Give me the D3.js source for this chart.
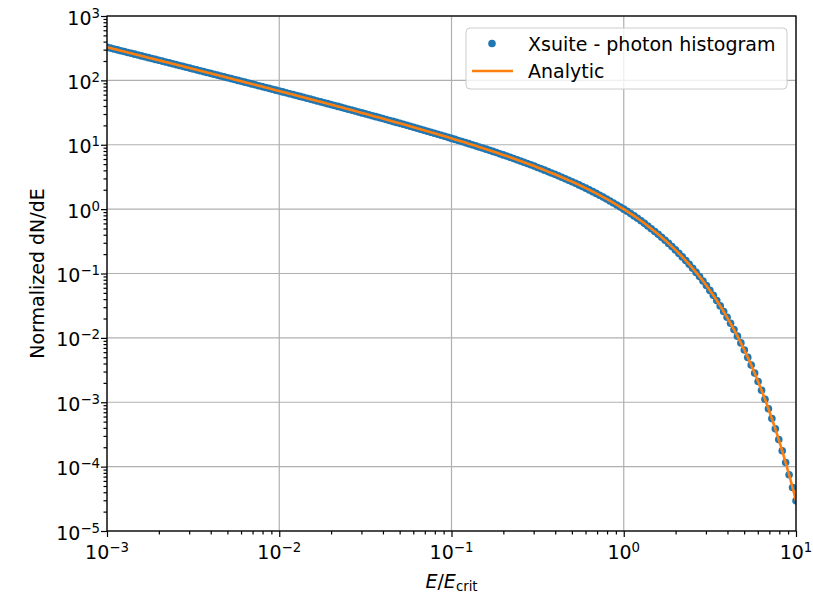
<!DOCTYPE html>
<html>
<head>
<meta charset="utf-8">
<script src="https://cdn.jsdelivr.net/npm/d3@7"></script>
<style>
body { margin: 0; background: #fff; }
text { font-family: "DejaVu Sans", sans-serif; fill: #000; }
</style>
</head>
<body>
<svg id="chart" width="813" height="593"></svg>
<script>
// photon energy over critical energy (log bins)
var energyRatio = [
  1.000e-3, 1.047e-3, 1.096e-3, 1.148e-3, 1.202e-3, 1.259e-3, 1.318e-3, 1.380e-3, 1.445e-3, 1.514e-3,
  1.585e-3, 1.660e-3, 1.738e-3, 1.820e-3, 1.905e-3, 1.995e-3, 2.089e-3, 2.188e-3, 2.291e-3, 2.399e-3,
  2.512e-3, 2.630e-3, 2.754e-3, 2.884e-3, 3.020e-3, 3.162e-3, 3.311e-3, 3.467e-3, 3.631e-3, 3.802e-3,
  3.981e-3, 4.169e-3, 4.365e-3, 4.571e-3, 4.786e-3, 5.012e-3, 5.248e-3, 5.495e-3, 5.754e-3, 6.026e-3,
  6.310e-3, 6.607e-3, 6.918e-3, 7.244e-3, 7.586e-3, 7.943e-3, 8.318e-3, 8.710e-3, 9.120e-3, 9.550e-3,
  1.000e-2, 1.047e-2, 1.096e-2, 1.148e-2, 1.202e-2, 1.259e-2, 1.318e-2, 1.380e-2, 1.445e-2, 1.514e-2,
  1.585e-2, 1.660e-2, 1.738e-2, 1.820e-2, 1.905e-2, 1.995e-2, 2.089e-2, 2.188e-2, 2.291e-2, 2.399e-2,
  2.512e-2, 2.630e-2, 2.754e-2, 2.884e-2, 3.020e-2, 3.162e-2, 3.311e-2, 3.467e-2, 3.631e-2, 3.802e-2,
  3.981e-2, 4.169e-2, 4.365e-2, 4.571e-2, 4.786e-2, 5.012e-2, 5.248e-2, 5.495e-2, 5.754e-2, 6.026e-2,
  6.310e-2, 6.607e-2, 6.918e-2, 7.244e-2, 7.586e-2, 7.943e-2, 8.318e-2, 8.710e-2, 9.120e-2, 9.550e-2,
  1.000e-1, 1.047e-1, 1.096e-1, 1.148e-1, 1.202e-1, 1.259e-1, 1.318e-1, 1.380e-1, 1.445e-1, 1.514e-1,
  1.585e-1, 1.660e-1, 1.738e-1, 1.820e-1, 1.905e-1, 1.995e-1, 2.089e-1, 2.188e-1, 2.291e-1, 2.399e-1,
  2.512e-1, 2.630e-1, 2.754e-1, 2.884e-1, 3.020e-1, 3.162e-1, 3.311e-1, 3.467e-1, 3.631e-1, 3.802e-1,
  3.981e-1, 4.169e-1, 4.365e-1, 4.571e-1, 4.786e-1, 5.012e-1, 5.248e-1, 5.495e-1, 5.754e-1, 6.026e-1,
  6.310e-1, 6.607e-1, 6.918e-1, 7.244e-1, 7.586e-1, 7.943e-1, 8.318e-1, 8.710e-1, 9.120e-1, 9.550e-1,
  1.000e0, 1.047e0, 1.096e0, 1.148e0, 1.202e0, 1.259e0, 1.318e0, 1.380e0, 1.445e0, 1.514e0,
  1.585e0, 1.660e0, 1.738e0, 1.820e0, 1.905e0, 1.995e0, 2.089e0, 2.188e0, 2.291e0, 2.399e0,
  2.512e0, 2.630e0, 2.754e0, 2.884e0, 3.020e0, 3.162e0, 3.311e0, 3.467e0, 3.631e0, 3.802e0,
  3.981e0, 4.169e0, 4.365e0, 4.571e0, 4.786e0, 5.012e0, 5.248e0, 5.495e0, 5.754e0, 6.026e0,
  6.310e0, 6.607e0, 6.918e0, 7.244e0, 7.586e0, 7.943e0, 8.318e0, 8.710e0, 9.120e0, 9.550e0,
  1.000e1
];

// normalized dN/dE
var dNdE = [
  327.2, 317.2, 307.6, 298.2, 289.1, 280.2, 271.7, 263.4, 255.3, 247.5,
  240.0, 232.6, 225.5, 218.6, 211.9, 205.4, 199.1, 193.0, 187.1, 181.4,
  175.8, 170.4, 165.2, 160.1, 155.2, 150.4, 145.7, 141.3, 136.9, 132.7,
  128.6, 124.6, 120.8, 117.0, 113.4, 109.9, 106.5, 103.2, 100.0, 96.87,
  93.86, 90.94, 88.10, 85.36, 82.69, 80.11, 77.60, 75.17, 72.81, 70.53,
  68.31, 66.16, 64.08, 62.06, 60.10, 58.19, 56.35, 54.56, 52.83, 51.15,
  49.52, 47.94, 46.40, 44.92, 43.48, 42.07, 40.72, 39.40, 38.13, 36.89,
  35.69, 34.53, 33.40, 32.31, 31.25, 30.22, 29.22, 28.26, 27.32, 26.41,
  25.52, 24.67, 23.84, 23.04, 22.26, 21.50, 20.77, 20.06, 19.37, 18.70,
  18.05, 17.42, 16.81, 16.22, 15.65, 15.10, 14.56, 14.03, 13.53, 13.04,
  12.56, 12.10, 11.65, 11.22, 10.80, 10.40, 10.00, 9.62, 9.24, 8.89,
  8.54, 8.20, 7.88, 7.56, 7.25, 6.95, 6.67, 6.39, 6.12, 5.86,
  5.60, 5.36, 5.12, 4.89, 4.67, 4.44, 4.23, 4.03, 3.83, 3.65,
  3.475, 3.298, 3.129, 2.968, 2.815, 2.669, 2.519, 2.378, 2.245, 2.117,
  1.989, 1.868, 1.756, 1.644, 1.538, 1.439, 1.340, 1.247, 1.159, 1.077,
  1.000, 0.9244, 0.8527, 0.7851, 0.7213, 0.6596, 0.6017, 0.5476, 0.4969, 0.4496,
  0.4059, 0.3655, 0.3281, 0.2935, 0.2618, 0.2325, 0.2056, 0.1811, 0.1589, 0.1387,
  0.1204, 0.1041, 0.08944, 0.07645, 0.06495, 0.05467, 0.04575, 0.03802, 0.03137, 0.02570,
  0.02088, 0.01683, 0.01344, 0.01064, 0.008350, 0.006482, 0.004976, 0.003779, 0.002836, 0.002103,
  0.001540, 0.001114, 0.0007937, 0.0005577, 0.0003860, 0.0002628, 0.0001760, 0.0001158, 7.483e-5, 4.745e-5,
  2.947e-5
];

var xTickValues = [1e-3, 1e-2, 1e-1, 1, 10];
var xTickExponents = ["\u22123", "\u22122", "\u22121", "0", "1"];
var yTickValues = [1e-5, 1e-4, 1e-3, 1e-2, 1e-1, 1, 10, 100, 1000];
var yTickExponents = ["\u22125", "\u22124", "\u22123", "\u22122", "\u22121", "0", "1", "2", "3"];
var seriesNames = ["Xsuite - photon histogram", "Analytic"];

var svg = d3.select("#chart");
var plotLeft = 107, plotRight = 796, plotTop = 16, plotBottom = 531;
var fontSize = 19;
var dotRadius = 3.8;

var x = d3.scaleLog().domain([1e-3, 10]).range([plotLeft, plotRight]);
var y = d3.scaleLog().domain([1e-5, 1e3]).range([plotBottom, plotTop]);

function isDecade(d) {
  var l = Math.log10(d);
  return Math.abs(l - Math.round(l)) < 1e-6;
}

svg.append("rect").attr("width", 813).attr("height", 593).attr("fill", "#fff");

svg.append("defs").append("clipPath").attr("id", "plotclip")
  .append("rect").attr("x", plotLeft).attr("y", plotTop)
  .attr("width", plotRight - plotLeft).attr("height", plotBottom - plotTop);

// grid
var grid = svg.append("g").attr("stroke", "#b0b0b0").attr("stroke-width", 1.2);
grid.selectAll(".gx").data(xTickValues).enter().append("line")
  .attr("x1", d => x(d)).attr("x2", d => x(d)).attr("y1", plotTop).attr("y2", plotBottom);
grid.selectAll(".gy").data(yTickValues).enter().append("line")
  .attr("y1", d => y(d)).attr("y2", d => y(d)).attr("x1", plotLeft).attr("x2", plotRight);

var points = d3.zip(energyRatio, dNdE);
var plot = svg.append("g").attr("clip-path", "url(#plotclip)");

plot.selectAll("circle").data(points).enter().append("circle")
  .attr("cx", d => x(d[0]))
  .attr("cy", d => y(d[1]))
  .attr("r", dotRadius)
  .attr("fill", "#1f77b4");

var line = d3.line().x(d => x(d[0])).y(d => y(d[1]));
plot.append("path").datum(points)
  .attr("d", line)
  .attr("fill", "none")
  .attr("stroke", "#ff7f0e")
  .attr("stroke-width", 2.6)
  .attr("stroke-linejoin", "round");

// axes: major + minor ticks
function styleAxis(g) {
  g.select(".domain").remove();
  g.selectAll("line").attr("stroke", "#000").attr("stroke-width", 1.2);
}
svg.append("g").attr("transform", "translate(0," + plotBottom + ")")
  .call(d3.axisBottom(x).tickValues(xTickValues).tickSize(6).tickFormat(""))
  .call(styleAxis);
svg.append("g").attr("transform", "translate(0," + plotBottom + ")")
  .call(d3.axisBottom(x).tickValues(x.ticks().filter(d => !isDecade(d))).tickSize(3.5).tickFormat(""))
  .call(styleAxis);
svg.append("g").attr("transform", "translate(" + plotLeft + ",0)")
  .call(d3.axisLeft(y).tickValues(yTickValues).tickSize(6).tickFormat(""))
  .call(styleAxis);
svg.append("g").attr("transform", "translate(" + plotLeft + ",0)")
  .call(d3.axisLeft(y).tickValues(y.ticks().filter(d => !isDecade(d))).tickSize(3.5).tickFormat(""))
  .call(styleAxis);

// frame
svg.append("rect").attr("x", plotLeft).attr("y", plotTop)
  .attr("width", plotRight - plotLeft).attr("height", plotBottom - plotTop)
  .attr("fill", "none").attr("stroke", "#000").attr("stroke-width", 1.3);

// tick labels as 10^n
svg.append("g").selectAll("text").data(yTickValues).enter().append("text")
  .attr("x", 100).attr("y", d => y(d) + 8.5)
  .attr("text-anchor", "end").attr("font-size", fontSize)
  .each(function(d, i) {
    var t = d3.select(this);
    t.append("tspan").text("10");
    t.append("tspan").attr("font-size", fontSize * 0.7).attr("dy", -7).text(yTickExponents[i]);
  });

svg.append("g").selectAll("text").data(xTickValues).enter().append("text")
  .attr("x", d => x(d)).attr("y", 559)
  .attr("text-anchor", "middle").attr("font-size", fontSize)
  .each(function(d, i) {
    var t = d3.select(this);
    t.append("tspan").text("10");
    t.append("tspan").attr("font-size", fontSize * 0.7).attr("dy", -7).text(xTickExponents[i]);
  });

// axis titles
var xl = svg.append("text").attr("x", (plotLeft + plotRight) / 2).attr("y", 587.5)
  .attr("text-anchor", "middle").attr("font-size", fontSize);
xl.append("tspan").attr("font-style", "italic").text("E");
xl.append("tspan").text("/");
xl.append("tspan").attr("font-style", "italic").text("E");
xl.append("tspan").attr("font-size", fontSize * 0.7).attr("dy", 3).text("crit");

svg.append("text")
  .attr("transform", "translate(44," + ((plotTop + plotBottom) / 2) + ") rotate(-90)")
  .attr("text-anchor", "middle").attr("font-size", fontSize)
  .text("Normalized dN/dE");

// legend
var lg = svg.append("g");
lg.append("rect").attr("x", 466).attr("y", 28).attr("width", 321).attr("height", 61)
  .attr("rx", 4).attr("fill", "#fff").attr("fill-opacity", 0.8)
  .attr("stroke", "#cccccc").attr("stroke-width", 1);
lg.append("circle").attr("cx", 492).attr("cy", 43.5).attr("r", dotRadius).attr("fill", "#1f77b4");
lg.append("line").attr("x1", 472).attr("x2", 513).attr("y1", 71).attr("y2", 71)
  .attr("stroke", "#ff7f0e").attr("stroke-width", 2.6);
lg.selectAll("text").data(seriesNames).enter().append("text")
  .attr("x", 528).attr("y", (d, i) => 50.5 + i * 27.5)
  .attr("font-size", fontSize)
  .text(d => d);
</script>
</body>
</html>
